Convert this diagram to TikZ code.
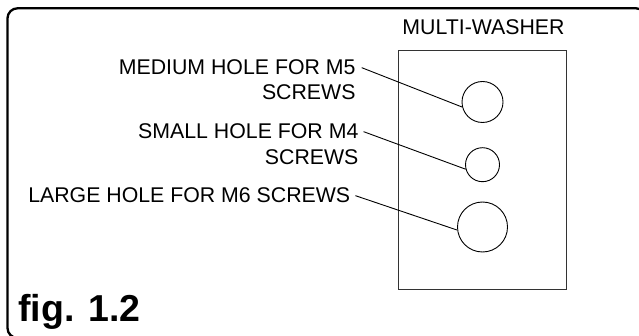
\documentclass[tikz,border=0pt]{standalone}
\usepackage{fontspec}
\setmainfont{Liberation Sans}
\begin{document}
\begin{tikzpicture}[x=1pt,y=-1pt,
  lbl/.style={inner sep=0pt,font=\fontsize{21.3}{25}\selectfont},
  hole/.style={circle,draw,line width=0.9pt,inner sep=0pt},
  leader/.style={line width=0.9pt},
  plate/.style={draw=black!80,line width=0.9pt}]
\useasboundingbox (0,0) rectangle (639,336);
\clip (0,0) rectangle (639,336);
\draw[line width=2.3pt,rounded corners=10pt] (7.5,8.3) rectangle (646,338);
\draw[plate] (398.5,50) rectangle (566.5,289);
\node[lbl,anchor=base] (title) at (483.5,35) {MULTI-WASHER};
\node[hole,minimum size=41pt] (c5) at (482.5,102) {};
\node[hole,minimum size=34pt] (c4) at (482.5,164.7) {};
\node[hole,minimum size=50pt] (c6) at (482.5,227) {};
\node[lbl,anchor=base east] (m5a) at (355.7,75) {MEDIUM HOLE FOR M5};
\node[lbl,anchor=base east] (m5b) at (355.7,100) {SCREWS};
\node[lbl,anchor=base east] (m4a) at (358.6,139) {SMALL HOLE FOR M4};
\node[lbl,anchor=base east] (m4b) at (358.6,164.5) {SCREWS};
\node[lbl,anchor=base east] (m6a) at (350.4,203) {LARGE HOLE FOR M6 SCREWS};
\draw[leader] ([xshift=6pt]m5a.east) -- (c5.194);
\draw[leader] ([xshift=5pt]m4a.east) -- (c4.195);
\draw[leader] ([xshift=5pt]m6a.east) -- (c6.187);
\node[inner sep=0pt,anchor=base west,font=\fontsize{37.5}{40}\selectfont\bfseries] (fig) at (18.3,321.7) {fig. 1.2};
\end{tikzpicture}
\end{document}
